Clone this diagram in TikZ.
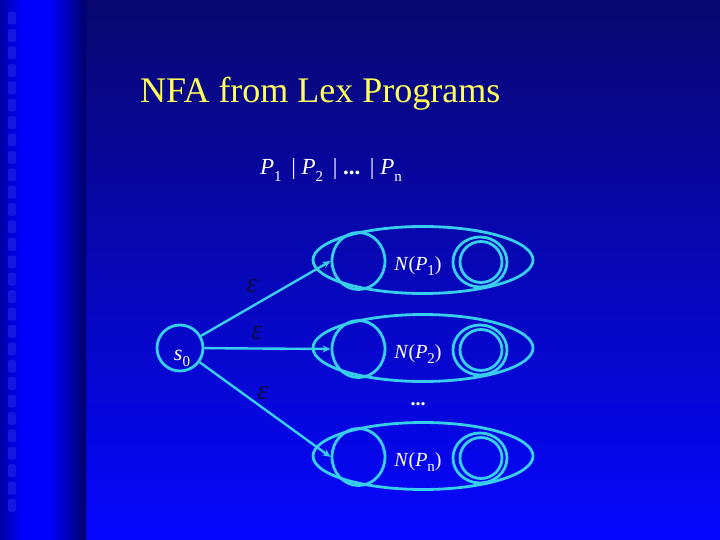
\documentclass[tikz,border=0pt]{standalone}
\usepackage{fontspec}
\setmainfont{Liberation Serif}
\usetikzlibrary{arrows.meta,shapes.geometric}
\definecolor{lineC}{RGB}{56,206,238}
\definecolor{titleC}{RGB}{255,255,90}
\definecolor{epsC}{RGB}{14,14,70}
\definecolor{bgTop}{RGB}{8,8,112}
\definecolor{bgBot}{RGB}{6,6,255}
\definecolor{stripDark}{RGB}{0,0,165}
\definecolor{stripBright}{RGB}{0,0,255}
\definecolor{stripEdge}{RGB}{0,0,105}
\definecolor{sqC}{RGB}{22,22,225}
\newcommand{\lsub}[1]{\raisebox{-0.28em}{\fontsize{15}{15}\selectfont #1}}
\tikzset{
  ln/.style={draw=lineC, line width=2.8pt},
  big/.style={ln, ellipse, minimum width=220pt, minimum height=67pt, inner sep=0pt},
  startc/.style={ln, ellipse, minimum width=53pt, minimum height=57pt, inner sep=0pt},
  accO/.style={ln, ellipse, minimum width=54pt, minimum height=50pt, inner sep=0pt},
  accI/.style={ln, ellipse, minimum width=42pt, minimum height=41pt, inner sep=0pt},
  lab/.style={text=white, font=\fontsize{20}{22}\selectfont, inner sep=0pt},
  eps/.style={text=epsC, font=\fontsize{28}{30}\selectfont\itshape, inner sep=0pt},
  arr/.style={draw=lineC, line width=2.4pt, -{Stealth[length=8pt,width=7pt]}},
}
\begin{document}
\begin{tikzpicture}[x=1pt,y=-1pt]
\useasboundingbox (0,0) rectangle (720,540);
% background
\shade[top color=bgTop, bottom color=bgBot] (86,0) rectangle (720,540);
\shade[left color=stripDark, right color=stripBright] (0,0) rectangle (22,540);
\fill[stripBright] (22,0) rectangle (50,540);
\shade[left color=stripBright, right color=stripEdge] (50,0) rectangle (86,540);
\foreach \i in {0,...,28}{
  \fill[sqC, rounded corners=1.5pt] (8,{11.7+17.4*\i}) rectangle (16,{24.7+17.4*\i});
}
% title
\node[anchor=base west, text=titleC, font=\fontsize{36}{40}\selectfont, inner sep=0pt] (title) at (140,103) {NFA from Lex Programs};
\node[anchor=base, text=white, font=\fontsize{23}{25}\selectfont, inner sep=0pt] (expr) at (331,175)
  {\textit{P}\lsub{1}\ \,|\ \textit{P}\lsub{2}\ \,|\ \textbf{...}\ \,|\ \textit{P}\lsub{n}};
% start state
\node[ln, circle, minimum size=46pt, inner sep=0pt] (s0) at (180,348) {};
\node[lab, anchor=base, font=\fontsize{22}{24}\selectfont] (s0l) at (182,360) {\textit{s}\lsub{0}};
% rows
\foreach \r/\c/\sub in {1/260/1, 2/348/2, 3/456/n}{
  \node[big] (E\r) at (423,\c) {};
  \node[startc] (S\r) at (358.5,{\c+1}) {};
  \node[accO] (A\r) at (480,{\c+2}) {};
  \node[accI] (B\r) at (481,{\c+2}) {};
  \node[lab, anchor=base] (L\r) at (418,{\c+10}) {\textit{N}(\textit{P}\lsub{\sub})};
}
\node[text=white, font=\fontsize{20}{22}\selectfont\bfseries, inner sep=0pt] (dots) at (418,404) {...};
% arrows
\draw[arr] (s0) -- (S1.west);
\draw[arr] (s0) -- (S2.west);
\draw[arr] (s0) -- (S3.west);
\node[eps] (e1) at (252,286) {ε};
\node[eps] (e2) at (257,333) {ε};
\node[eps] (e3) at (263,393) {ε};
\end{tikzpicture}
\end{document}
